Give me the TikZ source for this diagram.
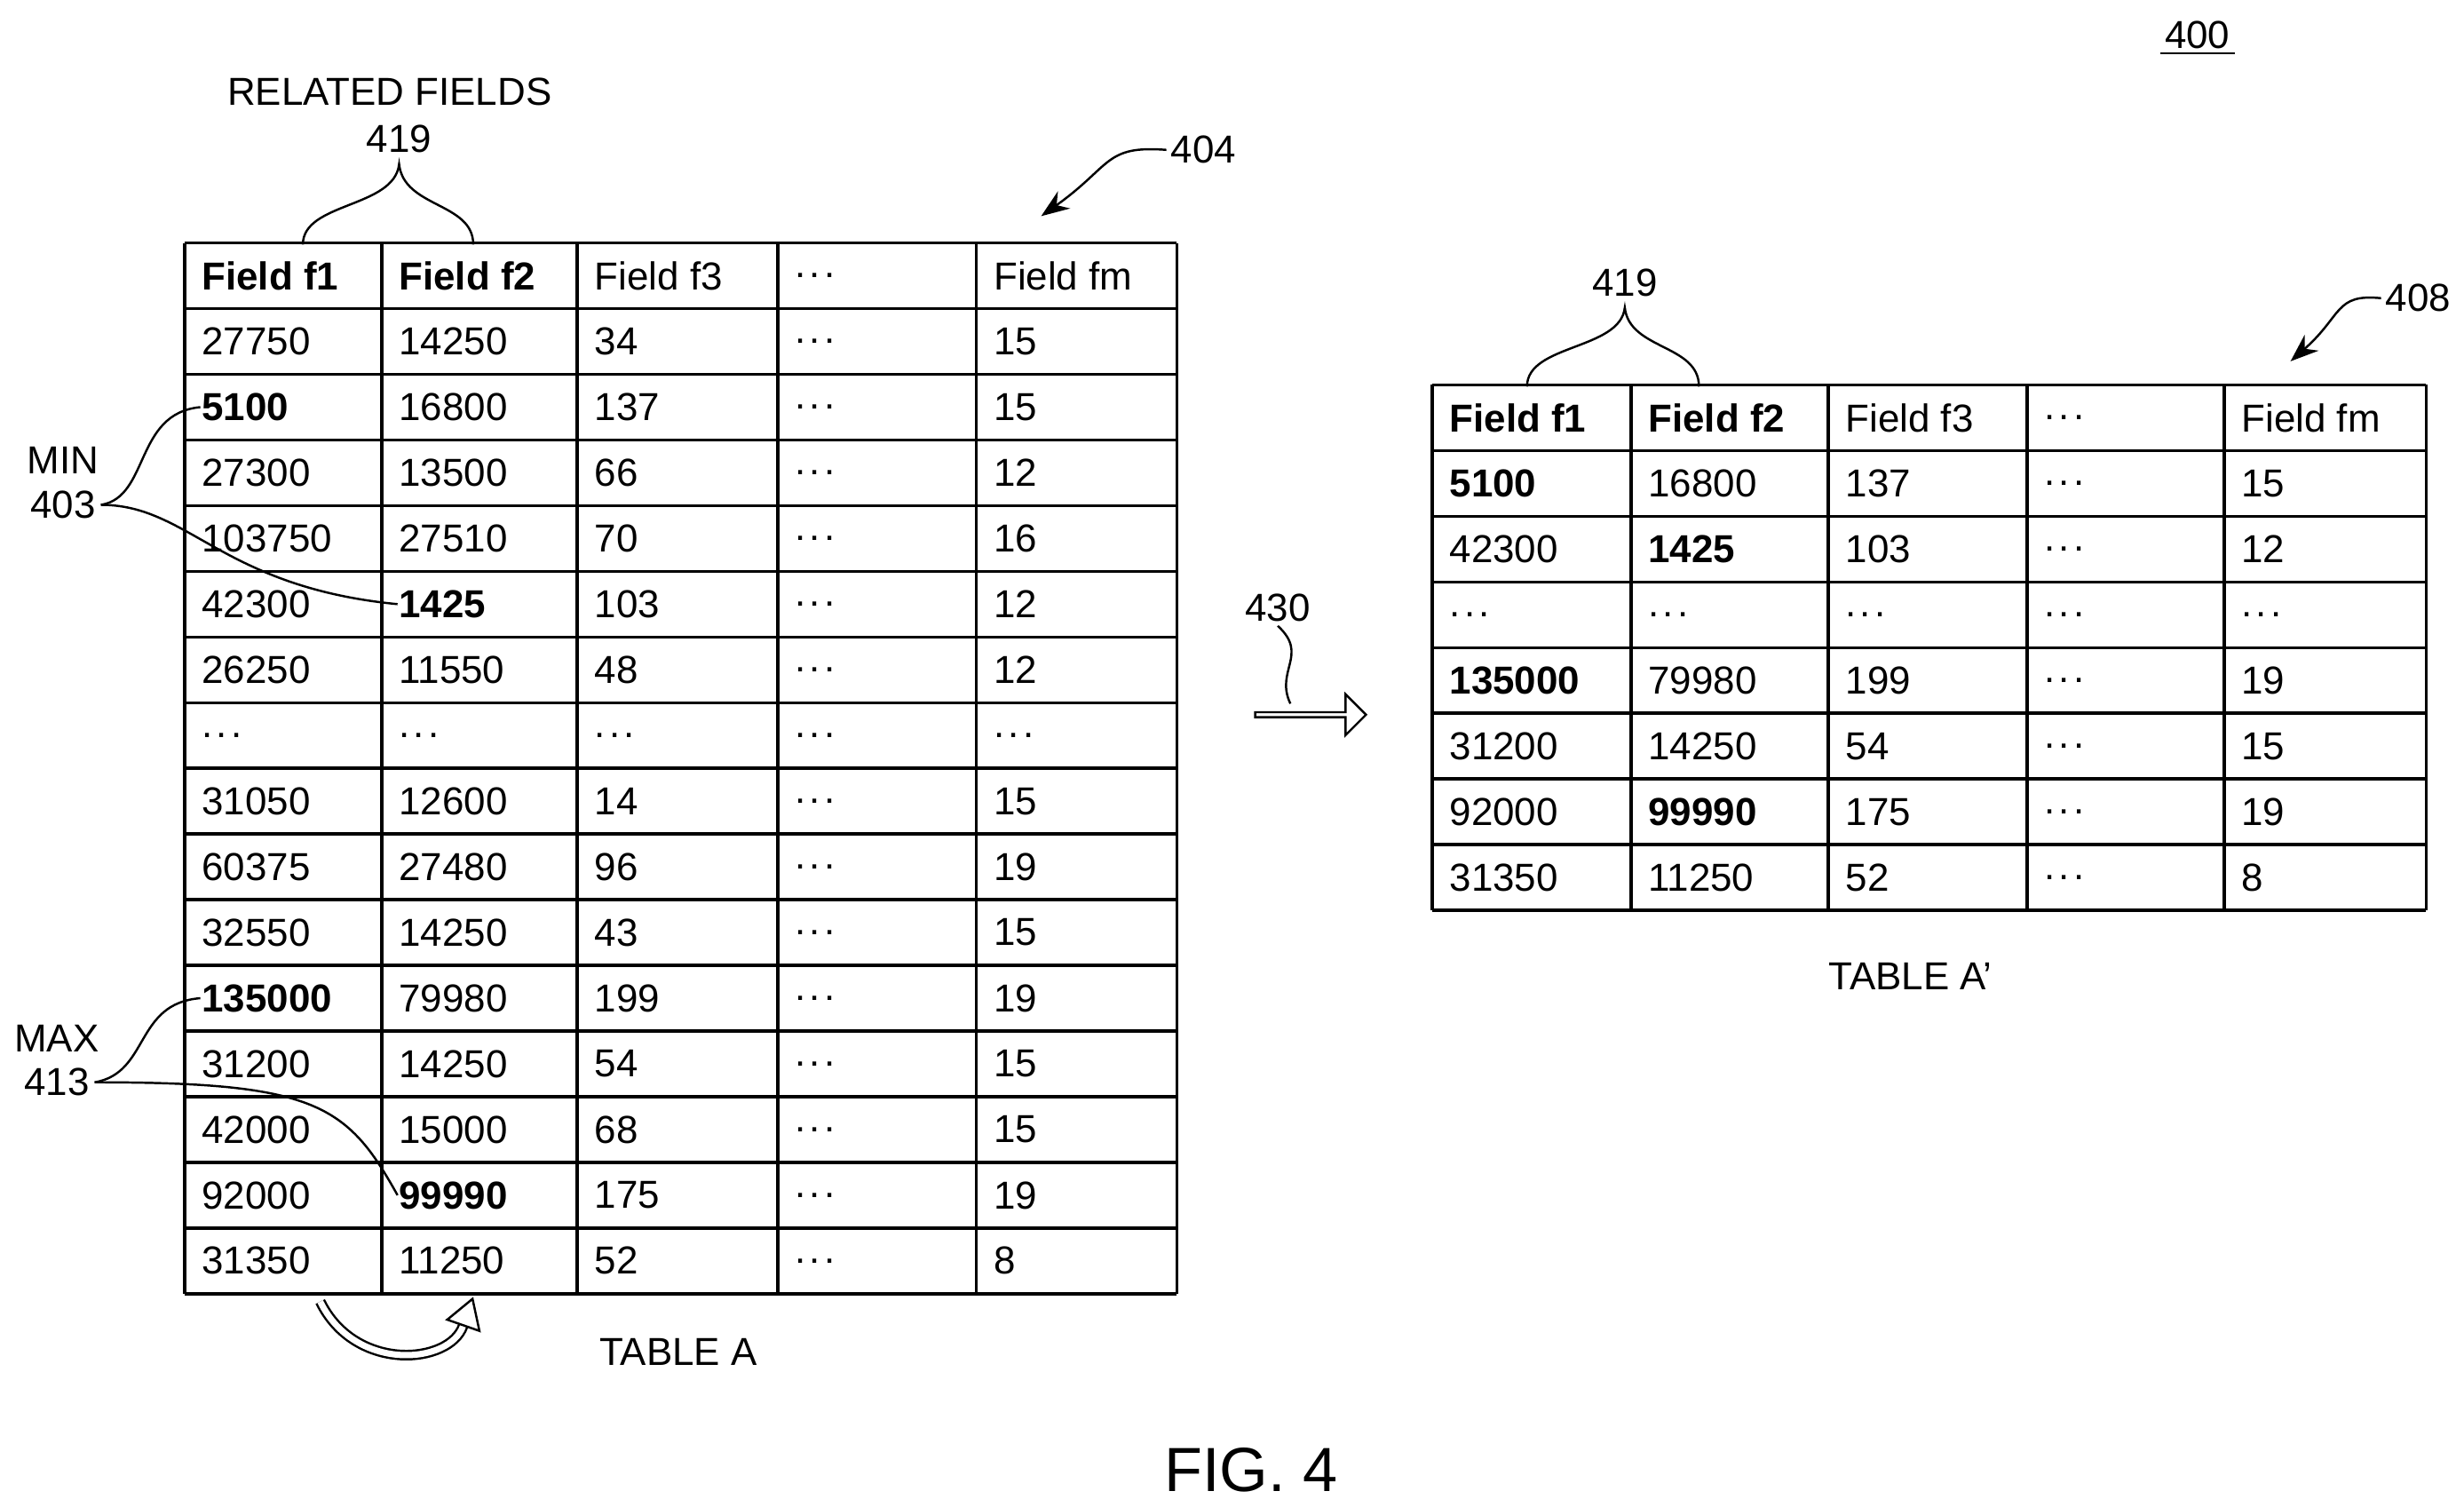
\documentclass[tikz,border=0pt]{standalone}
\usepackage{fontspec}
\setmainfont{Liberation Sans}
\usetikzlibrary{arrows.meta,calc,shapes.arrows}
\newcommand\cellfont{\fontsize{12.5}{15}\selectfont}
\newcommand\dd{.\kern1.2pt.\kern1.2pt.}
\tikzset{
  cell/.style={anchor=west,font=\cellfont,inner sep=0pt},
  lbl/.style={font=\cellfont,inner sep=1pt},
  lead/.style={line width=0.7pt}
}
\begin{document}
\begin{tikzpicture}[x=0.01777cm,y=-0.01777cm,line width=1pt]
\useasboundingbox (0,0) rectangle (1562,955);

% table A
\foreach \x in {117,242,366,493,619,746} \draw (\x,154) -- (\x,820);
\foreach \i in {0,...,16} \draw (117,154+41.625*\i) -- (746,154+41.625*\i);
\foreach \a/\b/\c/\e [count=\r from 0] in {
  {\textbf{Field f1}}/{\textbf{Field f2}}/Field f3/Field fm,
  27750/14250/34/15, {\textbf{5100}}/16800/137/15, 27300/13500/66/12,
  103750/27510/70/16, 42300/{\textbf{1425}}/103/12, 26250/11550/48/12,
  {\dd}/{\dd}/{\dd}/{\dd}, 31050/12600/14/15, 60375/27480/96/19, 32550/14250/43/15,
  {\textbf{135000}}/79980/199/19, 31200/14250/54/15, 42000/15000/68/15,
  92000/{\textbf{99990}}/175/19, 31350/11250/52/8}{
  \pgfmathsetmacro\yy{154+41.625*(\r+0.5)}
  \node[cell] (a-\r-1) at (127,\yy) {\a};
  \node[cell] (a-\r-2) at (252,\yy) {\b};
  \node[cell] (a-\r-3) at (376,\yy) {\c};
  \node[cell] (a-\r-4) at (503,\yy) {\dd};
  \node[cell] (a-\r-5) at (629,\yy) {\e};
}

% table A'
\foreach \x in {908,1034,1159,1285,1410,1538} \draw (\x,244) -- (\x,577);
\foreach \i in {0,...,8} \draw (908,244+41.625*\i) -- (1538,244+41.625*\i);
\foreach \a/\b/\c/\e [count=\r from 0] in {
  {\textbf{Field f1}}/{\textbf{Field f2}}/Field f3/Field fm,
  {\textbf{5100}}/16800/137/15, 42300/{\textbf{1425}}/103/12,
  {\dd}/{\dd}/{\dd}/{\dd}, {\textbf{135000}}/79980/199/19, 31200/14250/54/15,
  92000/{\textbf{99990}}/175/19, 31350/11250/52/8}{
  \pgfmathsetmacro\yy{244+41.625*(\r+0.5)}
  \node[cell] (b-\r-1) at (918,\yy) {\a};
  \node[cell] (b-\r-2) at (1044,\yy) {\b};
  \node[cell] (b-\r-3) at (1169,\yy) {\c};
  \node[cell] (b-\r-4) at (1295,\yy) {\dd};
  \node[cell] (b-\r-5) at (1420,\yy) {\e};
}

% labels
\node[lbl] (rel) at (247,58) {RELATED FIELDS};
\node[lbl] (r419) at (253,88) {419};
\draw[lead] (192,155) .. controls (192,128) and (250,132) .. (253,104)
  .. controls (256,132) and (300,128) .. (300,155);
\node[lbl] (s419) at (1030,179) {419};
\draw[lead] (968,245) .. controls (968,218) and (1027,222) .. (1030,195)
  .. controls (1033,222) and (1077,218) .. (1077,245);

\node[lbl,align=center] (min) at (40,306) {MIN\\[-1pt]403};
\draw[lead] (64,320) .. controls (95,315) and (85,262) .. (a-2-1.west);
\draw[lead] (64,320) .. controls (120,320) and (140,372) .. (a-5-2.west);
\node[lbl,align=center] (max) at (36,672) {MAX\\[-1pt]413};
\draw[lead] (60,686) .. controls (95,680) and (85,636) .. (a-11-1.west);
\draw[lead] (60,686) .. controls (200,686) and (220,700) .. (a-14-2.west);

\node[lbl] (n404) at (763,95) {404};
\draw[lead,-{Stealth[length=9pt]}] (n404.west) .. controls (700,92) and (705,105) .. (660,137);
\node[lbl] (n408) at (1533,189) {408};
\draw[lead,-{Stealth[length=9pt]}] (n408.west) .. controls (1480,186) and (1485,200) .. (1452,229);
\node[lbl] (n400) at (1393,22) {400};
\draw[lead] (n400.south west) -- (n400.south east);

\node[lbl] (n430) at (810,385) {430};
\node[single arrow,draw,lead,single arrow head extend=2.5pt,
  minimum width=0.46cm,inner sep=0pt,single arrow tip angle=90,minimum height=1.25cm] (blk) at (830,453) {};
\draw[lead] (n430.south) .. controls (830,415) and (808,425) .. (818,446);

% swap arrow
\coordinate (sw1) at (203,825);
\coordinate (sw2) at (300,822);
\draw[lead,double,double distance=2pt,-{Triangle[open,length=10pt,width=12pt]}]
  (sw1) .. controls (225,870) and (285,865) .. (sw2);

\node[lbl] (ta) at (430,857) {TABLE A};
\node[lbl] (tb) at (1211,619) {TABLE A'};
\node[font=\fontsize{20}{24}\selectfont] (fig) at (793,932) {FIG. 4};
\end{tikzpicture}
\end{document}
